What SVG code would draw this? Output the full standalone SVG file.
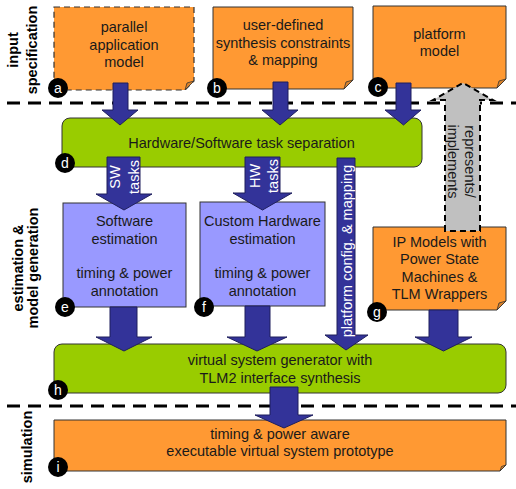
<svg xmlns="http://www.w3.org/2000/svg" width="516" height="489" viewBox="0 0 516 489">
<style>
text{font-family:"Liberation Sans",Arial,sans-serif;font-size:14.5px;fill:#1a1a1a;text-anchor:middle}
.sec{font-weight:bold;fill:#000}
.orange{fill:#FF9933;stroke:#333;stroke-width:1}
.fold{fill:#D9822B;stroke:#333;stroke-width:0.8}
.green{fill:#99CC00;stroke:#333;stroke-width:1}
.purple{fill:#9999FF;stroke:#333;stroke-width:1}
.arrow{fill:#333399;stroke:#1f1f5c;stroke-width:1}
.gray{fill:#C0C0C0;stroke:#000;stroke-width:2;stroke-dasharray:6 4}
.sep{stroke:#000;stroke-width:3;stroke-dasharray:13 8;fill:none}
.wt{fill:#fff}
.lbl circle{fill:#000}
.lbl text{fill:#fff;font-size:14px}
</style>
<g id="sections">
<line class="sep" x1="7" y1="103" x2="516" y2="103"/>
<line class="sep" x1="7" y1="406" x2="516" y2="406"/>
<text class="sec" transform="translate(18,50) rotate(-90)">input</text>
<text class="sec" transform="translate(37,50) rotate(-90)">specification</text>
<text class="sec" transform="translate(23,268) rotate(-90)">estimation &amp;</text>
<text class="sec" transform="translate(38,268) rotate(-90)">model generation</text>
<text class="sec" transform="translate(32,447) rotate(-90)">simulation</text>
</g>
<g id="node-a">
<path class="orange" style="stroke-dasharray:6 4;stroke-width:1.2" d="M54 7 H194 V81 L185 90 H54 Z"/>
<path class="fold" d="M194 81 L185 90 L187 83 Z"/>
<text x="124" y="32">parallel</text>
<text x="124" y="49.5">application</text>
<text x="124" y="67">model</text>
<g class="lbl"><circle cx="58" cy="88" r="10"/><text x="58" y="93">a</text></g>
</g>
<g id="node-b">
<path class="orange" d="M213 7 H353 V80 L344 89 H213 Z"/>
<path class="fold" d="M353 80 L344 89 L346 82 Z"/>
<text x="283" y="30">user-defined</text>
<text x="283" y="47.5">synthesis constraints</text>
<text x="283" y="65">&amp; mapping</text>
<g class="lbl"><circle cx="217" cy="88" r="10"/><text x="217" y="93">b</text></g>
</g>
<g id="node-c">
<path class="orange" d="M373 6 H506 V79 L497 88 H373 Z"/>
<path class="fold" d="M506 79 L497 88 L499 81 Z"/>
<text x="439.5" y="39">platform</text>
<text x="439.5" y="56">model</text>
<g class="lbl"><circle cx="378" cy="87" r="10"/><text x="378" y="92">c</text></g>
</g>
<g id="node-d">
<rect class="green" x="62" y="118" width="360" height="49" rx="8"/>
<text x="241.5" y="148">Hardware/Software task separation</text>
<g class="lbl"><circle cx="65" cy="163" r="10"/><text x="65" y="168">d</text></g>
</g>
<g id="node-e">
<rect class="purple" x="63" y="203" width="123" height="104"/>
<text x="124.5" y="226">Software</text>
<text x="124.5" y="243.5">estimation</text>
<text x="124.5" y="278">timing &amp; power</text>
<text x="124.5" y="296">annotation</text>
<g class="lbl"><circle cx="65" cy="307" r="10"/><text x="65" y="312">e</text></g>
</g>
<g id="node-f">
<rect class="purple" x="200" y="202" width="125" height="104"/>
<text x="262.5" y="226">Custom Hardware</text>
<text x="262.5" y="243.5">estimation</text>
<text x="262.5" y="278">timing &amp; power</text>
<text x="262.5" y="296">annotation</text>
<g class="lbl"><circle cx="204" cy="307" r="10"/><text x="204" y="312">f</text></g>
</g>
<g id="node-g">
<path class="orange" d="M373 227 H506 V301 L497 310 H373 Z"/>
<path class="fold" d="M506 301 L497 310 L499 303 Z"/>
<text x="439.5" y="246.5">IP Models with</text>
<text x="439.5" y="264">Power State</text>
<text x="439.5" y="281.5">Machines &amp;</text>
<text x="439.5" y="299">TLM Wrappers</text>
</g>
<g id="node-h">
<rect class="green" x="54" y="344" width="452" height="49" rx="8"/>
<text x="280" y="365">virtual system generator with</text>
<text x="280" y="383">TLM2 interface synthesis</text>
<g class="lbl"><circle cx="58" cy="390" r="10"/><text x="58" y="395">h</text></g>
</g>
<g id="node-i">
<path class="orange" d="M54 420 H506 V465 L500 471 H54 Z"/>
<path class="fold" d="M506 465 L500 471 L501.5 466.5 Z"/>
<text x="280" y="438.5">timing &amp; power aware</text>
<text x="280" y="456">executable virtual system prototype</text>
<g class="lbl"><circle cx="58" cy="467" r="10"/><text x="58" y="472">i</text></g>
</g>
<g id="connectors">
<path class="arrow" d="M113 83 H128 V110 H138 L120 125 L102 110 H113 Z"/>
<path class="arrow" d="M273 82 H288 V110 H298 L280 125 L262 110 H273 Z"/>
<path class="arrow" d="M396 83 H411 V110 H421 L403.5 125 L385 110 H396 Z"/>
<path class="arrow" d="M107 157 H140 V194 H152 L124 210 L96 194 H107 Z"/>
<text class="wt" transform="translate(120,177) rotate(-90)">SW</text>
<text class="wt" transform="translate(139,177) rotate(-90)">tasks</text>
<path class="arrow" d="M245 157 H280 V193 H292 L262.5 210 L233 193 H245 Z"/>
<text class="wt" transform="translate(259.5,176) rotate(-90)">HW</text>
<text class="wt" transform="translate(277.5,176) rotate(-90)">tasks</text>
<path class="arrow" d="M337 158 H355 V335 H368 L346 350 L325 335 H337 Z"/>
<text class="wt" transform="translate(351.5,251) rotate(-90)">platform config. &amp; mapping</text>
<path class="arrow" d="M110 307 H137 V337 H152 L124 351 L96 337 H110 Z"/>
<path class="arrow" d="M245 306 H270 V337 H287 L257 351 L227 337 H245 Z"/>
<path class="arrow" d="M429 310 H458 V337 H472 L443.5 351 L415 337 H429 Z"/>
<path class="arrow" d="M270 387 H298 V415 H313 L284 428 L255 415 H270 Z"/>
<path class="gray" d="M445 231 V100 H433 L463 83 L493 100 H480 V231 Z"/>
<text transform="translate(465,161.5) rotate(90)">represents/</text>
<text transform="translate(448,161.5) rotate(90)">implements</text>
</g>
<g class="lbl" id="label-g"><circle cx="377" cy="312" r="10"/><text x="377" y="317">g</text></g>
</svg>
